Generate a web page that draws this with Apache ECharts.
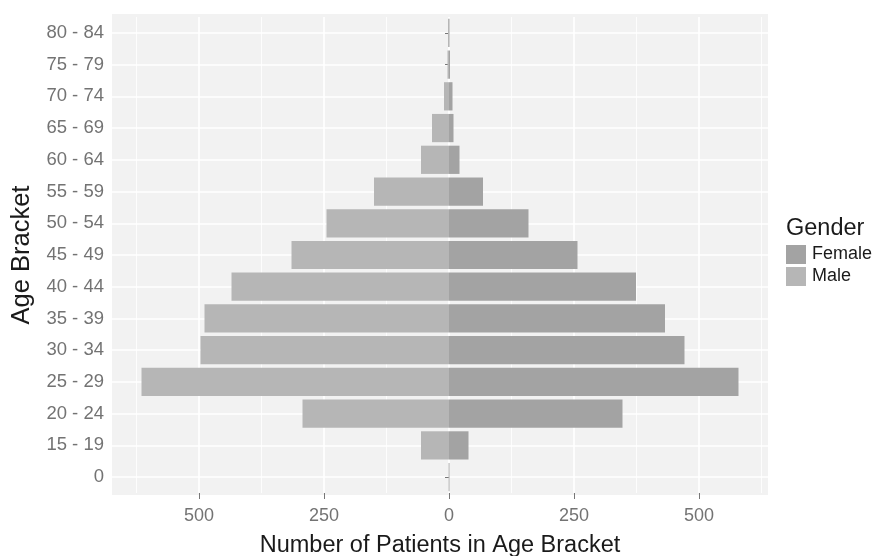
<!DOCTYPE html>
<html>
<head>
<meta charset="utf-8">
<script src="https://cdn.jsdelivr.net/npm/echarts@6/dist/echarts.min.js"></script>
<style>
html,body{margin:0;padding:0;background:#fff;}
#chart{width:876px;height:556px;}
</style>
</head>
<body>
<div id="chart"></div>
<script>
// Age brackets, bottom to top
var categories = ['0', '15 - 19', '20 - 24', '25 - 29', '30 - 34', '35 - 39', '40 - 44', '45 - 49', '50 - 54', '55 - 59', '60 - 64', '65 - 69', '70 - 74', '75 - 79', '80 - 84'];
// Patient counts per bracket
var maleCounts   = [1, 56, 293, 615, 497, 489, 435, 315, 245, 150, 56, 34, 10, 3, 2];
var femaleCounts = [1, 39, 347, 579, 471, 432, 374, 257, 159, 68, 21, 9, 7, 2, 1];
// Axis ticks
var majorTicks = [-500, -250, 0, 250, 500];
var minorTicks = [-625, -375, -125, 125, 375, 625];
var xMin = -674, xMax = 638;

var FONT = '"Liberation Sans", Arial, Helvetica, sans-serif';
var chart = echarts.init(document.getElementById('chart'), null, {renderer: 'canvas'});

var hiddenLine = {show: true, lineStyle: {color: 'rgba(0,0,0,0)', width: 0}};

var option = {
  animation: false,
  backgroundColor: '#ffffff',
  textStyle: {fontFamily: FONT},
  graphic: [{
    type: 'rect', z: -10, silent: true,
    shape: {x: 112, y: 14, width: 656, height: 481},
    style: {fill: '#f2f2f2'}
  }],
  title: {
    text: 'Gender', left: 786, top: 217, padding: 0,
    textStyle: {fontFamily: FONT, fontSize: 23.5, fontWeight: 'normal', color: '#1a1a1a'}
  },
  legend: {
    data: ['Female', 'Male'],
    orient: 'vertical', left: 786, top: 245, padding: 0,
    itemWidth: 20, itemHeight: 19, itemGap: 3, icon: 'rect',
    textStyle: {fontFamily: FONT, fontSize: 18, color: '#1a1a1a', padding: [0, 0, 0, 1]}
  },
  grid: {left: 112, right: 108, top: 17, bottom: 63, containLabel: false, outerBoundsMode: 'none'},
  xAxis: [{
    type: 'value', min: xMin, max: xMax,
    name: 'Number of Patients in Age Bracket', nameLocation: 'middle', nameGap: 41,
    nameTextStyle: {fontFamily: FONT, fontSize: 23.5, color: '#1a1a1a'},
    axisLine: hiddenLine,
    axisTick: {show: true, length: 6, customValues: majorTicks, lineStyle: {color: '#777', width: 1}},
    axisLabel: {customValues: majorTicks, fontFamily: FONT, fontSize: 18, color: '#737373', margin: 14,
      formatter: function (v) { return String(Math.abs(v)); }},
    splitLine: {show: true, lineStyle: {color: '#ffffff', width: 1.6}}
  }, {
    type: 'value', min: xMin, max: xMax, position: 'bottom',
    axisLine: {show: false}, axisLabel: {show: false},
    axisTick: {show: false, customValues: minorTicks},
    splitLine: {show: true, lineStyle: {color: '#ffffff', width: 0.8}}
  }],
  yAxis: {
    type: 'category', data: categories,
    name: 'Age Bracket', nameLocation: 'middle', nameGap: 77, nameRotate: 90,
    nameTextStyle: {fontFamily: FONT, fontSize: 25.5, color: '#1a1a1a'},
    axisLine: hiddenLine,
    axisTick: {show: true, alignWithLabel: true, length: 4, lineStyle: {color: '#777'}},
    axisLabel: {fontFamily: FONT, fontSize: 18.5, color: '#737373', margin: 8},
    splitLine: {show: true, alignWithLabel: true, lineStyle: {color: '#ffffff', width: 1.6}}
  },
  series: [{
    name: 'Female', type: 'bar', xAxisIndex: 0,
    data: femaleCounts,
    barCategoryGap: '11%', barGap: '-100%',
    itemStyle: {color: '#a3a3a3', borderWidth: 0}
  }, {
    name: 'Male', type: 'bar', xAxisIndex: 0,
    data: maleCounts.map(function (v) { return -v; }),
    barCategoryGap: '11%', barGap: '-100%',
    itemStyle: {color: '#b6b6b6', borderWidth: 0}
  }]
};
chart.setOption(option);
</script>
</body>
</html>
